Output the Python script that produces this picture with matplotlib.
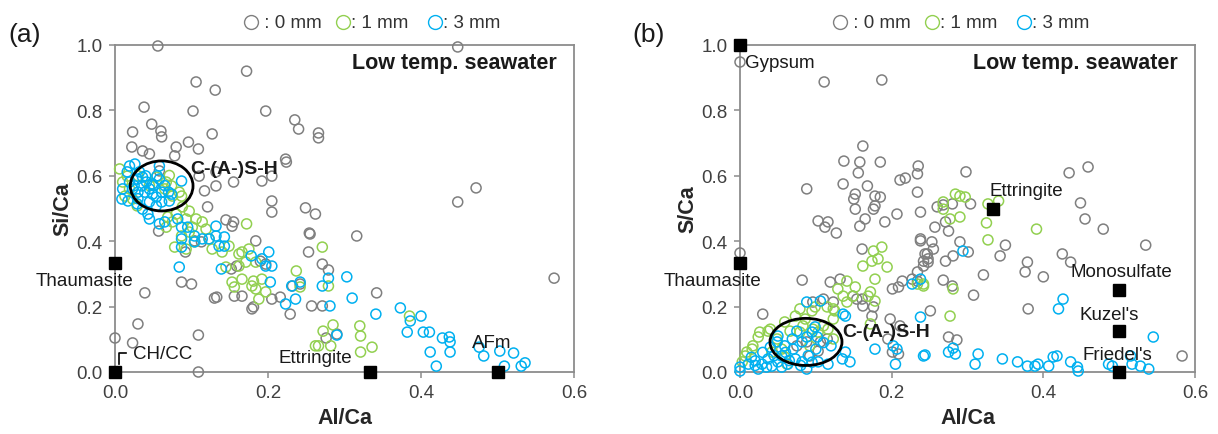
import matplotlib.pyplot as plt
from matplotlib.patches import Ellipse
from matplotlib.lines import Line2D

plt.rcParams['font.family'] = ['Liberation Sans', 'DejaVu Sans']

GRAY = '#7f7f7f'
GREEN = '#92d050'
BLUE = '#00b0f0'

# ---------------- panel (a): Si/Ca vs Al/Ca ----------------
a_0mm = [
    (0.056, 0.997), (0.448, 0.994), (0.172, 0.920), (0.106, 0.887), (0.131, 0.862),
    (0.038, 0.810), (0.102, 0.798), (0.197, 0.798), (0.235, 0.771), (0.240, 0.743),
    (0.048, 0.758), (0.060, 0.737), (0.061, 0.719), (0.023, 0.734), (0.127, 0.728),
    (0.096, 0.703), (0.022, 0.688), (0.036, 0.676), (0.045, 0.667), (0.080, 0.688),
    (0.078, 0.661), (0.109, 0.682), (0.223, 0.651), (0.224, 0.642), (0.266, 0.731),
    (0.266, 0.716), (0.058, 0.615), (0.110, 0.599), (0.132, 0.612), (0.155, 0.581),
    (0.117, 0.554), (0.132, 0.569), (0.192, 0.584), (0.205, 0.599), (0.205, 0.523),
    (0.121, 0.505), (0.205, 0.489), (0.249, 0.502), (0.262, 0.483), (0.145, 0.465),
    (0.155, 0.459), (0.153, 0.446), (0.254, 0.425), (0.057, 0.431), (0.184, 0.401),
    (0.104, 0.401), (0.113, 0.398), (0.092, 0.367), (0.253, 0.367), (0.159, 0.324),
    (0.152, 0.315), (0.190, 0.339), (0.197, 0.330), (0.087, 0.275), (0.100, 0.269),
    (0.039, 0.242), (0.130, 0.226), (0.133, 0.229), (0.166, 0.232), (0.156, 0.232),
    (0.181, 0.199), (0.179, 0.193), (0.205, 0.223), (0.216, 0.229), (0.232, 0.263),
    (0.257, 0.202), (0.271, 0.202), (0.229, 0.177), (0.030, 0.147), (0.109, 0.113),
    (0.000, 0.104), (0.023, 0.089), (0.109, 0.000), (0.255, 0.422), (0.316, 0.416),
    (0.271, 0.330), (0.279, 0.312), (0.242, 0.269), (0.342, 0.242), (0.276, 0.104),
    (0.290, 0.116), (0.472, 0.563), (0.448, 0.520), (0.574, 0.287),
]
a_1mm = [
    (0.006, 0.621), (0.010, 0.581), (0.016, 0.599), (0.019, 0.560), (0.013, 0.538),
    (0.023, 0.529), (0.029, 0.508), (0.067, 0.581), (0.071, 0.601), (0.065, 0.560),
    (0.075, 0.538), (0.084, 0.550), (0.088, 0.505), (0.097, 0.492), (0.080, 0.483),
    (0.069, 0.474), (0.075, 0.459), (0.093, 0.468), (0.106, 0.468), (0.114, 0.459),
    (0.101, 0.443), (0.119, 0.437), (0.087, 0.416), (0.097, 0.428), (0.067, 0.443),
    (0.078, 0.382), (0.093, 0.376), (0.104, 0.398), (0.123, 0.407), (0.127, 0.376),
    (0.140, 0.367), (0.149, 0.385), (0.172, 0.453), (0.166, 0.367), (0.175, 0.376),
    (0.145, 0.321), (0.162, 0.324), (0.171, 0.336), (0.184, 0.336), (0.153, 0.275),
    (0.166, 0.284), (0.179, 0.263), (0.192, 0.284), (0.188, 0.223), (0.197, 0.245),
    (0.237, 0.309), (0.242, 0.260), (0.271, 0.382), (0.279, 0.263), (0.272, 0.125),
    (0.285, 0.144), (0.320, 0.141), (0.321, 0.110), (0.266, 0.080), (0.282, 0.080),
    (0.336, 0.076), (0.321, 0.061), (0.385, 0.171), (0.162, 0.361), (0.156, 0.260),
    (0.184, 0.254), (0.181, 0.278), (0.262, 0.080), (0.074, 0.569), (0.087, 0.538),
    (0.054, 0.596), (0.030, 0.600), (0.045, 0.570),
]
a_3mm = [
    (0.019, 0.630), (0.026, 0.636), (0.016, 0.612), (0.032, 0.612), (0.036, 0.596),
    (0.029, 0.590), (0.035, 0.569), (0.041, 0.581), (0.045, 0.560), (0.039, 0.550),
    (0.049, 0.544), (0.054, 0.535), (0.061, 0.550), (0.058, 0.590), (0.049, 0.575),
    (0.030, 0.550), (0.023, 0.560), (0.019, 0.581), (0.010, 0.560), (0.009, 0.529),
    (0.017, 0.523), (0.029, 0.514), (0.036, 0.498), (0.043, 0.483), (0.054, 0.508),
    (0.061, 0.520), (0.071, 0.523), (0.074, 0.544), (0.058, 0.630), (0.087, 0.584),
    (0.045, 0.468), (0.058, 0.453), (0.065, 0.459), (0.082, 0.468), (0.087, 0.443),
    (0.095, 0.443), (0.087, 0.407), (0.087, 0.382), (0.104, 0.398), (0.104, 0.416),
    (0.114, 0.407), (0.123, 0.407), (0.132, 0.446), (0.132, 0.416), (0.143, 0.413),
    (0.143, 0.385), (0.136, 0.385), (0.084, 0.321), (0.178, 0.355), (0.192, 0.346),
    (0.201, 0.367), (0.197, 0.324), (0.205, 0.324), (0.203, 0.275), (0.231, 0.263),
    (0.236, 0.223), (0.223, 0.208), (0.242, 0.275), (0.279, 0.287), (0.303, 0.291),
    (0.271, 0.263), (0.310, 0.226), (0.281, 0.202), (0.341, 0.177), (0.373, 0.196),
    (0.386, 0.156), (0.400, 0.171), (0.382, 0.122), (0.403, 0.122), (0.411, 0.122),
    (0.428, 0.104), (0.437, 0.107), (0.438, 0.092), (0.438, 0.061), (0.412, 0.061),
    (0.420, 0.018), (0.476, 0.076), (0.482, 0.049), (0.503, 0.064), (0.521, 0.058),
    (0.509, 0.018), (0.531, 0.018), (0.536, 0.028), (0.290, 0.113), (0.139, 0.315),
    (0.040, 0.600), (0.050, 0.570), (0.030, 0.530), (0.065, 0.570), (0.045, 0.520),
    (0.070, 0.550), (0.025, 0.570), (0.055, 0.600),
]
a_phase_names = ['Thaumasite', 'CH/CC', 'Ettringite', 'AFm']
a_phase_x = [0.0, 0.0, 0.333, 0.5]
a_phase_y = [0.333, 0.0, 0.0, 0.0]

# ---------------- panel (b): S/Ca vs Al/Ca ----------------
b_0mm = [
    (0.000, 0.948), (0.111, 0.887), (0.187, 0.893), (0.162, 0.691), (0.137, 0.645),
    (0.158, 0.642), (0.185, 0.642), (0.156, 0.609), (0.235, 0.630), (0.234, 0.606),
    (0.211, 0.587), (0.218, 0.593), (0.088, 0.560), (0.136, 0.575), (0.168, 0.569),
    (0.152, 0.544), (0.150, 0.529), (0.178, 0.538), (0.185, 0.535), (0.234, 0.550),
    (0.178, 0.508), (0.298, 0.612), (0.434, 0.609), (0.459, 0.627), (0.449, 0.517),
    (0.304, 0.514), (0.280, 0.514), (0.260, 0.505), (0.238, 0.489), (0.268, 0.511),
    (0.257, 0.443), (0.275, 0.431), (0.271, 0.459), (0.238, 0.401), (0.253, 0.398),
    (0.255, 0.376), (0.244, 0.361), (0.248, 0.346), (0.242, 0.339), (0.271, 0.339),
    (0.281, 0.355), (0.290, 0.398), (0.301, 0.367), (0.343, 0.355), (0.350, 0.388),
    (0.321, 0.297), (0.268, 0.281), (0.280, 0.263), (0.308, 0.235), (0.379, 0.336),
    (0.376, 0.306), (0.400, 0.291), (0.425, 0.361), (0.436, 0.336), (0.455, 0.468),
    (0.479, 0.437), (0.535, 0.388), (0.380, 0.193), (0.251, 0.187), (0.275, 0.107),
    (0.286, 0.098), (0.583, 0.049), (0.103, 0.462), (0.116, 0.459), (0.112, 0.443),
    (0.127, 0.425), (0.158, 0.446), (0.165, 0.468), (0.152, 0.498), (0.176, 0.498),
    (0.191, 0.459), (0.207, 0.483), (0.238, 0.407), (0.161, 0.376), (0.082, 0.281),
    (0.132, 0.284), (0.030, 0.177), (0.096, 0.214), (0.110, 0.223), (0.123, 0.214),
    (0.149, 0.232), (0.154, 0.223), (0.162, 0.202), (0.176, 0.199), (0.209, 0.260),
    (0.201, 0.254), (0.227, 0.284), (0.234, 0.278), (0.198, 0.162), (0.211, 0.141),
    (0.115, 0.101), (0.106, 0.092), (0.088, 0.092), (0.075, 0.080), (0.103, 0.064),
    (0.092, 0.049), (0.201, 0.061), (0.209, 0.055), (0.119, 0.275), (0.214, 0.278),
    (0.234, 0.306), (0.242, 0.324), (0.248, 0.336), (0.247, 0.361), (0.195, 0.101),
    (0.174, 0.171), (0.161, 0.223), (0.000, 0.364),
]
b_1mm = [
    (0.268, 0.520), (0.284, 0.544), (0.290, 0.538), (0.297, 0.535), (0.327, 0.514),
    (0.341, 0.523), (0.268, 0.498), (0.290, 0.474), (0.277, 0.468), (0.325, 0.456),
    (0.327, 0.404), (0.391, 0.437), (0.242, 0.269), (0.281, 0.254), (0.277, 0.171),
    (0.187, 0.382), (0.176, 0.370), (0.194, 0.321), (0.174, 0.339), (0.162, 0.324),
    (0.178, 0.284), (0.141, 0.278), (0.129, 0.254), (0.152, 0.260), (0.169, 0.232),
    (0.136, 0.232), (0.123, 0.193), (0.115, 0.199), (0.099, 0.199), (0.079, 0.193),
    (0.073, 0.171), (0.059, 0.153), (0.040, 0.131), (0.026, 0.122), (0.017, 0.080),
    (0.009, 0.061), (0.003, 0.031), (0.049, 0.101), (0.083, 0.141), (0.096, 0.131),
    (0.110, 0.141), (0.123, 0.162), (0.055, 0.070), (0.062, 0.024), (0.079, 0.122),
    (0.123, 0.101), (0.182, 0.346), (0.172, 0.245), (0.178, 0.217), (0.149, 0.232),
    (0.141, 0.214), (0.125, 0.187), (0.095, 0.187), (0.086, 0.162), (0.037, 0.125),
    (0.024, 0.107), (0.016, 0.070), (0.007, 0.049), (0.066, 0.125), (0.103, 0.122),
    (0.116, 0.131), (0.172, 0.147), (0.092, 0.080), (0.059, 0.046), (0.042, 0.061),
    (0.234, 0.269), (0.242, 0.263),
]
b_3mm = [
    (0.000, 0.015), (0.011, 0.024), (0.020, 0.034), (0.029, 0.024), (0.024, 0.009),
    (0.037, 0.040), (0.042, 0.018), (0.050, 0.031), (0.055, 0.049), (0.063, 0.024),
    (0.073, 0.040), (0.082, 0.031), (0.040, 0.076), (0.049, 0.092), (0.059, 0.080),
    (0.050, 0.110), (0.069, 0.101), (0.082, 0.092), (0.088, 0.107), (0.095, 0.122),
    (0.102, 0.107), (0.075, 0.125), (0.088, 0.214), (0.106, 0.217), (0.139, 0.171),
    (0.139, 0.061), (0.135, 0.040), (0.145, 0.031), (0.178, 0.070), (0.207, 0.070),
    (0.205, 0.024), (0.242, 0.049), (0.227, 0.269), (0.103, 0.031), (0.116, 0.024),
    (0.000, 0.003), (0.238, 0.284), (0.238, 0.168), (0.202, 0.080), (0.088, 0.009),
    (0.099, 0.138), (0.136, 0.177), (0.244, 0.052), (0.275, 0.061), (0.284, 0.055),
    (0.281, 0.073), (0.314, 0.055), (0.310, 0.024), (0.346, 0.040), (0.294, 0.370),
    (0.379, 0.018), (0.389, 0.018), (0.393, 0.024), (0.407, 0.018), (0.413, 0.046),
    (0.418, 0.049), (0.436, 0.031), (0.445, 0.015), (0.446, 0.003), (0.426, 0.223),
    (0.420, 0.193), (0.486, 0.024), (0.491, 0.018), (0.517, 0.024), (0.528, 0.018),
    (0.539, 0.009), (0.545, 0.107), (0.515, 0.049), (0.366, 0.031), (0.015, 0.045),
    (0.030, 0.060), (0.045, 0.050), (0.060, 0.060), (0.070, 0.070), (0.020, 0.020),
    (0.035, 0.015), (0.055, 0.015), (0.065, 0.035), (0.090, 0.050), (0.100, 0.070),
    (0.110, 0.090), (0.120, 0.080), (0.080, 0.020), (0.095, 0.030),
]
b_phase_names = ['Gypsum', 'Thaumasite', 'Ettringite', 'Monosulfate', "Kuzel's", "Friedel's"]
b_phase_x = [0.0, 0.0, 0.333, 0.5, 0.5, 0.5]
b_phase_y = [1.0, 0.333, 0.5, 0.25, 0.125, 0.0]

# label offsets in pixels (dx, dy, ha)
a_label_pos = [(-30, -17, 'center'), (18, 18, 'left'), (-18, 14, 'right'), (-6, 29, 'center')]
b_label_pos = [(5, -17, 'left'), (-27, -17, 'center'), (-3, 18, 'left'),
               (2, 19, 'center'), (-10, 17, 'center'), (-2, 17, 'center')]


def scatter_set(ax, pts, color):
    xs = [p[0] for p in pts]
    ys = [p[1] for p in pts]
    ax.scatter(xs, ys, s=52, facecolors='none', edgecolors=color,
               linewidths=1.1, clip_on=False, zorder=3)


def style_axes(ax, ylabel):
    ax.set_xlim(0, 0.6)
    ax.set_ylim(0, 1.0)
    ax.set_xticks([0, 0.2, 0.4, 0.6])
    ax.set_yticks([0, 0.2, 0.4, 0.6, 0.8, 1.0])
    ax.xaxis.set_major_formatter(plt.FormatStrFormatter('%.1f'))
    ax.yaxis.set_major_formatter(plt.FormatStrFormatter('%.1f'))
    for sp in ax.spines.values():
        sp.set_color('#8c8c8c')
        sp.set_linewidth(1.3)
    ax.tick_params(direction='out', length=4, width=1.1, color='#8c8c8c',
                   labelsize=13.5, labelcolor='#404040', pad=5)
    ax.set_xlabel('Al/Ca', fontsize=15.5, fontweight='bold', color='#262626', labelpad=4)
    ax.set_ylabel(ylabel, fontsize=15.5, fontweight='bold', color='#262626', labelpad=2)
    ax.text(0.962, 0.945, 'Low temp. seawater', transform=ax.transAxes,
            ha='right', va='center', fontsize=15.5, fontweight='bold', color='#1a1a1a')


def phases(ax, names, xs, ys, offsets):
    ax.plot(xs, ys, 's', color='black', ms=9, clip_on=False, zorder=6)
    for n, x, y, (dx, dy, ha) in zip(names, xs, ys, offsets):
        ax.annotate(n, (x, y), xytext=(dx, dy), textcoords='offset pixels',
                    ha=ha, va='center', fontsize=13.5, color='#1a1a1a', zorder=7,
                    annotation_clip=False)


def legend_row(fig, x0, y):
    items = [(GRAY, ' : 0 mm'), (GREEN, ': 1 mm'), (BLUE, ': 3 mm')]
    x = x0
    for color, txt in items:
        fig.add_artist(Line2D([x / 1218], [1 - y / 435], marker='o', ms=10,
                              mfc='none', mec=color, mew=1.0, transform=fig.transFigure))
        fig.text((x + 8) / 1218, 1 - y / 435, txt, ha='left', va='center',
                 fontsize=13.5, color='#333333')
        x += 92


fig = plt.figure(figsize=(12.18, 4.35), dpi=100)
ax1 = fig.add_axes([115 / 1218, 62 / 435, 459 / 1218, 327 / 435])
ax2 = fig.add_axes([740 / 1218, 62 / 435, 455 / 1218, 327 / 435])

# (a)
scatter_set(ax1, a_0mm, GRAY)
scatter_set(ax1, a_1mm, GREEN)
scatter_set(ax1, a_3mm, BLUE)
style_axes(ax1, 'Si/Ca')
phases(ax1, a_phase_names, a_phase_x, a_phase_y, a_label_pos)
ax1.add_patch(Ellipse((0.061, 0.569), 0.082, 0.153, fill=False, lw=2, color='black', zorder=5))
ax1.text(0.098, 0.621, 'C-(A-)S-H', ha='left', va='center', fontsize=14,
         fontweight='bold', color='#1a1a1a', zorder=7)
ax1.plot([0.005, 0.005, 0.014], [0.025, 0.058, 0.058], color='black', lw=1.2,
         clip_on=False, zorder=7)

# (b)
scatter_set(ax2, b_0mm, GRAY)
scatter_set(ax2, b_1mm, GREEN)
scatter_set(ax2, b_3mm, BLUE)
style_axes(ax2, 'S/Ca')
phases(ax2, b_phase_names, b_phase_x, b_phase_y, b_label_pos)
ax2.add_patch(Ellipse((0.087, 0.092), 0.095, 0.144, fill=False, lw=2, color='black', zorder=5))
ax2.text(0.135, 0.125, 'C-(A-)S-H', ha='left', va='center', fontsize=14,
         fontweight='bold', color='#1a1a1a', zorder=7)

fig.text(25 / 1218, 1 - 35 / 435, '(a)', ha='center', va='center', fontsize=19, color='#1a1a1a')
fig.text(649 / 1218, 1 - 35 / 435, '(b)', ha='center', va='center', fontsize=19, color='#1a1a1a')
legend_row(fig, 251, 23)
legend_row(fig, 840, 23)

fig.savefig('out.png', dpi=100)
